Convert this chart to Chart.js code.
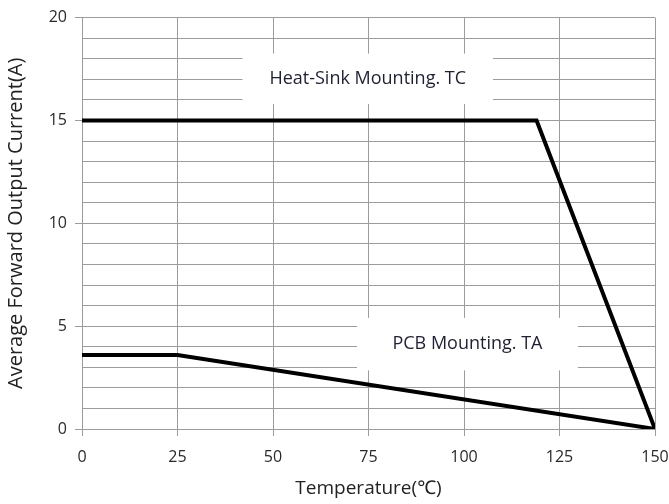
<!DOCTYPE html>
<html>
<head>
<meta charset="utf-8">
<script src="https://cdn.jsdelivr.net/npm/chart.js@4/dist/chart.umd.min.js"></script>
<style>
  html, body { margin: 0; padding: 0; background: #fff; }
  #wrap { width: 669px; height: 504px; }
</style>
</head>
<body>
<div id="wrap"><canvas id="myChart"></canvas></div>
<script>
// data
let heatSinkTemp = [0, 119, 150];
let heatSinkCurrent = [15, 15, 0];
let pcbTemp = [0, 25, 150];
let pcbCurrent = [3.6, 3.6, 0];

// in-plot labels (box in data units)
let boxLabels = [
  { text: 'Heat-Sink Mounting. TC', x0: 42, x1: 107.6, y0: 18.25, y1: 15.8 },
  { text: 'PCB Mounting. TA', x0: 72, x1: 129.8, y0: 5.4, y1: 2.85 }
];

const fontFam = "'Open Sans', 'Noto Sans', sans-serif";
const gridGray = '#9c9c9c';

const boxPlugin = {
  id: 'boxLabels',
  beforeDatasetsDraw(chart) {
    const ctx = chart.ctx;
    const xs = chart.scales.x, ys = chart.scales.y;
    ctx.save();
    boxLabels.forEach(b => {
      const l = xs.getPixelForValue(b.x0), r = xs.getPixelForValue(b.x1);
      const t = ys.getPixelForValue(b.y0), bt = ys.getPixelForValue(b.y1);
      ctx.fillStyle = '#fff';
      ctx.fillRect(l, t, r - l, bt - t);
      ctx.fillStyle = '#1f1f3a';
      ctx.font = '18px ' + fontFam;
      ctx.textAlign = 'center';
      ctx.textBaseline = 'middle';
      ctx.fillText(b.text, (l + r) / 2, (t + bt) / 2);
    });
    ctx.restore();
  }
};

let firstChart = document.getElementById('myChart').getContext('2d');

let lineChart = new Chart(firstChart, {
  type: 'scatter',
  data: {
    datasets: [{
      label: 'Heat-Sink Mounting. TC',
      data: heatSinkTemp.map((t, i) => ({ x: t, y: heatSinkCurrent[i] })),
      showLine: true,
      borderColor: '#000',
      borderWidth: 4,
      pointRadius: 0,
      fill: false
    }, {
      label: 'PCB Mounting. TA',
      data: pcbTemp.map((t, i) => ({ x: t, y: pcbCurrent[i] })),
      showLine: true,
      borderColor: '#000',
      borderWidth: 4,
      pointRadius: 0,
      fill: false
    }]
  },
  plugins: [boxPlugin],
  options: {
    responsive: true,
    maintainAspectRatio: false,
    animation: false,
    layout: { padding: { top: 16, right: 14, left: 0, bottom: 0 } },
    plugins: {
      legend: { display: false },
      tooltip: { enabled: false }
    },
    scales: {
      x: {
        type: 'linear',
        min: 0,
        max: 150,
        ticks: {
          stepSize: 25,
          color: '#2a2a2a',
          font: { size: 16, family: fontFam },
          padding: 12,
          maxRotation: 0
        },
        grid: { color: gridGray, tickLength: 7, tickColor: gridGray },
        border: { color: gridGray },
        title: {
          display: true,
          text: 'Temperature(℃)',
          color: '#222',
          font: { size: 19, family: fontFam },
          padding: { top: 0 }
        },
        afterFit(scale) {
          scale.height = 75;
          scale.paddingRight = 0;
          scale.paddingLeft = 0;
        }
      },
      y: {
        min: 0,
        max: 20,
        ticks: {
          stepSize: 1,
          autoSkip: false,
          color: '#2a2a2a',
          font: { size: 16, family: fontFam },
          padding: 8,
          callback: v => (v % 5 === 0 ? v : '')
        },
        grid: {
          color: gridGray,
          tickLength: 7,
          tickColor: c => (c.tick && c.tick.value % 5 === 0 ? gridGray : 'rgba(0,0,0,0)')
        },
        border: { color: gridGray },
        title: {
          display: true,
          text: 'Average Forward Output Current(A)',
          color: '#222',
          font: { size: 20, family: fontFam },
          padding: { bottom: 2 }
        },
        afterFit(scale) { scale.width = 82; }
      }
    }
  }
});
</script>
</body>
</html>
